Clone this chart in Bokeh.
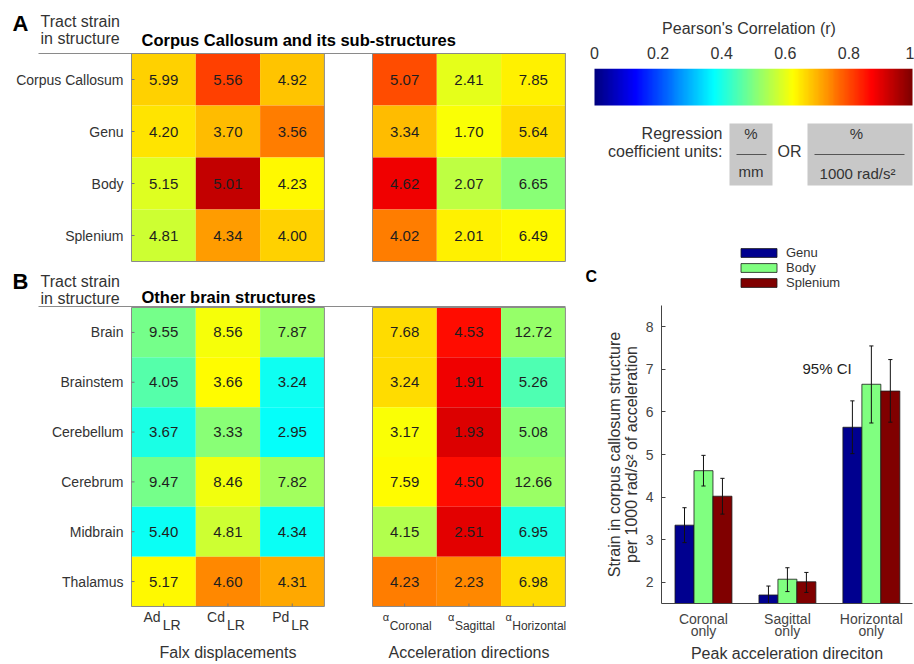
from bokeh.plotting import figure
from bokeh.models import Range1d, FixedTicker, Legend, LegendItem, ColumnDataSource, LinearColorMapper
from bokeh.layouts import row, column
from bokeh.embed import file_html
from bokeh.resources import INLINE
from bokeh.core.properties import value
from bokeh.transform import linear_cmap
import numpy as np

# ---------------- data ----------------
a_rows = ["Corpus Callosum", "Genu", "Body", "Splenium"]
b_rows = ["Brain", "Brainstem", "Cerebellum", "Cerebrum", "Midbrain", "Thalamus"]
falx_cols = ["Ad", "Cd", "Pd"]
falx_sub = "LR"
accel_cols = ["Coronal", "Sagittal", "Horizontal"]

# regression coefficients (cell text)
a_coef = [
    [5.99, 5.56, 4.92, 5.07, 2.41, 7.85],
    [4.20, 3.70, 3.56, 3.34, 1.70, 5.64],
    [5.15, 5.01, 4.23, 4.62, 2.07, 6.65],
    [4.81, 4.34, 4.00, 4.02, 2.01, 6.49],
]
# Pearson r (cell colour), estimated from colours
a_r = [
    [0.67, 0.81, 0.68, 0.80, 0.60, 0.64],
    [0.65, 0.69, 0.75, 0.69, 0.62, 0.66],
    [0.59, 0.93, 0.63, 0.89, 0.56, 0.51],
    [0.575, 0.72, 0.67, 0.75, 0.64, 0.63],
]
b_coef = [
    [9.55, 8.56, 7.87, 7.68, 4.53, 12.72],
    [4.05, 3.66, 3.24, 3.24, 1.91, 5.26],
    [3.67, 3.33, 2.95, 3.17, 1.93, 5.08],
    [9.47, 8.46, 7.82, 7.59, 4.50, 12.66],
    [5.40, 4.81, 4.34, 4.15, 2.51, 6.95],
    [5.17, 4.60, 4.31, 4.23, 2.23, 6.98],
]
b_r = [
    [0.49, 0.615, 0.525, 0.66, 0.86, 0.52],
    [0.46, 0.625, 0.39, 0.66, 0.89, 0.45],
    [0.40, 0.51, 0.38, 0.62, 0.91, 0.51],
    [0.49, 0.61, 0.535, 0.625, 0.86, 0.525],
    [0.385, 0.575, 0.385, 0.55, 0.90, 0.40],
    [0.63, 0.74, 0.71, 0.75, 0.74, 0.66],
]

cbar_ticks = [0, 0.2, 0.4, 0.6, 0.8, 1]

bar_groups = ["Coronal\nonly", "Sagittal\nonly", "Horizontal\nonly"]
bar_series = ["Genu", "Body", "Splenium"]
genu_mean = [3.34, 1.70, 5.64]
genu_lo = [2.93, 1.49, 5.02]
genu_hi = [3.75, 1.91, 6.26]
body_mean = [4.62, 2.07, 6.65]
body_lo = [4.26, 1.78, 5.74]
body_hi = [4.98, 2.34, 7.55]
splen_mean = [4.02, 2.01, 6.49]
splen_lo = [3.60, 1.76, 5.76]
splen_hi = [4.44, 2.23, 7.23]
bar_ticks = [2, 3, 4, 5, 6, 7, 8]

# ---------------- style ----------------
FONT = "Liberation Sans"
TXT = "#333333"
BAR_COLORS = ["#00008f", "#80ff80", "#800000"]
# approximate advance widths (em) of the letters used in the small labels
EM = {"C": .722, "o": .556, "r": .333, "n": .556, "a": .556, "l": .222, "S": .667,
      "g": .556, "i": .222, "t": .278, "H": .722, "z": .5}


def jet_hex(t):
    r = min(max(1.5 - abs(4 * t - 3), 0.0), 1.0)
    g = min(max(1.5 - abs(4 * t - 2), 0.0), 1.0)
    b = min(max(1.5 - abs(4 * t - 1), 0.0), 1.0)
    return "#%02x%02x%02x" % (round(r * 255), round(g * 255), round(b * 255))


JET = [jet_hex(i / 255) for i in range(256)]


def put(p, x, y, t, size, align="left", color=TXT, style="normal", baseline="middle", **kw):
    p.text(x=[x], y=[y], text=[t], text_font=value(FONT), text_font_size=f"{size}px",
           text_align=align, text_baseline=baseline, text_color=color,
           text_font_style=style, **kw)


# ---------------- heat maps (A + B) ----------------
HW, HH = 583, 664
ph = figure(width=HW, height=HH, x_range=Range1d(0, HW), y_range=Range1d(HH, 0),
            output_backend="svg", toolbar_location=None, min_border=0,
            x_axis_type=None, y_axis_type=None)
ph.outline_line_color = None
ph.grid.visible = False
ph.frame_align = False

LX0, RX0, CWID = 131, 372, 64.3
A_TOP, A_RH = 53, 52
B_TOP, B_RH = 307, 49.83


def col_center(j):
    return (LX0 if j < 3 else RX0) + (j % 3 + 0.5) * CWID


cx, cy, cw, chh, cr, ct = [], [], [], [], [], []
for rows, coef, rr, top, rh in [(a_rows, a_coef, a_r, A_TOP, A_RH), (b_rows, b_coef, b_r, B_TOP, B_RH)]:
    for i in range(len(rows)):
        for j in range(6):
            cx.append(col_center(j))
            cy.append(top + (i + 0.5) * rh)
            cw.append(CWID)
            chh.append(rh)
            cr.append(rr[i][j])
            ct.append("%.2f" % coef[i][j])
src = ColumnDataSource(dict(x=cx, y=cy, w=cw, h=chh, r=cr, t=ct))
ph.rect(x="x", y="y", width="w", height="h", source=src,
        fill_color=linear_cmap("r", JET, 0, 1), line_color=None)
ph.text(x="x", y="y", text="t", source=src, text_font=value(FONT), text_font_size="15px",
        text_align="center", text_baseline="middle", text_color="#1e1e1e")

# group borders
for top, rh, n in [(A_TOP, A_RH, len(a_rows)), (B_TOP, B_RH, len(b_rows))]:
    for x0 in (LX0, RX0):
        ph.rect(x=[x0 + 1.5 * CWID], y=[top + n * rh / 2], width=3 * CWID, height=n * rh,
                fill_color=None, line_color="#8a8a8a", line_width=1)

# row labels + small ticks
for rows, top, rh in [(a_rows, A_TOP, A_RH), (b_rows, B_TOP, B_RH)]:
    ys = [top + (i + 0.5) * rh for i in range(len(rows))]
    ph.text(x=[123] * len(rows), y=ys, text=rows, text_font=value(FONT), text_font_size="14px",
            text_align="right", text_baseline="middle", text_color=TXT)
    ph.segment(x0=[LX0] * len(rows), x1=[LX0 + 3] * len(rows), y0=ys, y1=ys,
               line_color="#777777", line_width=1)

B_BOT = B_TOP + len(b_rows) * B_RH
bx = [col_center(j) for j in range(6)]
ph.segment(x0=bx, x1=bx, y0=[B_BOT] * 6, y1=[B_BOT - 3] * 6, line_color="#777777", line_width=1)

# x labels under B
for j, name in enumerate(falx_cols):
    c = col_center(j)
    put(ph, c - 3, 616, name, 14, align="right")
    put(ph, c - 1, 624, falx_sub, 14, align="left")
for j, name in enumerate(accel_cols):
    c = col_center(j + 3)
    wc = c + 6
    wpx = sum(EM.get(ch, 0.55) for ch in name) * 12
    put(ph, wc, 625, name, 12, align="center")
    put(ph, wc - wpx / 2 - 0.5, 616, "\u03b1", 11, align="right")

put(ph, LX0 + 1.5 * CWID, 652, "Falx displacements", 16, align="center")
put(ph, RX0 + 1.5 * CWID, 652, "Acceleration directions", 16, align="center")

# headers
put(ph, 12, 23, "A", 22, color="black", style="bold")
put(ph, 40, 21, "Tract strain", 16)
put(ph, 40, 38, "in structure", 16)
put(ph, 141, 39, "Corpus Callosum and its sub-structures", 16.5, color="black", style="bold")
ph.segment(x0=[38], x1=[565], y0=[53], y1=[53], line_color="#8a8a8a", line_width=1.2)

put(ph, 12, 281, "B", 22, color="black", style="bold")
put(ph, 40, 281, "Tract strain", 16)
put(ph, 40, 298, "in structure", 16)
put(ph, 141, 296, "Other brain structures", 16.5, color="black", style="bold")
ph.segment(x0=[38], x1=[565], y0=[306], y1=[306], line_color="#8a8a8a", line_width=1.2)

# ---------------- colour bar + units + legend (top right) ----------------
CX0, CX1 = 594.0, 912.0   # colour bar ends on the page
PC_W, PC_H, PC_TOP = 331, 292, 68
pc = figure(width=PC_W, height=PC_H,
            x_range=Range1d((583 - CX0) / (CX1 - CX0), (914 - CX0) / (CX1 - CX0)),
            y_range=Range1d(0, PC_H - PC_TOP),
            output_backend="svg", toolbar_location=None,
            min_border_left=0, min_border_right=0, min_border_top=PC_TOP, min_border_bottom=0,
            x_axis_location="above", y_axis_type=None)
pc.outline_line_color = None
pc.grid.visible = False
pc.frame_align = False
ax = pc.xaxis[0]
ax.ticker = FixedTicker(ticks=cbar_ticks)
ax.major_label_overrides = {t: ("%g" % t) for t in cbar_ticks}
ax.axis_line_color = None
ax.major_tick_line_color = None
ax.minor_tick_line_color = None
ax.major_tick_out = 0
ax.major_tick_in = 0
ax.major_label_standoff = 10
ax.major_label_text_font = FONT
ax.major_label_text_font_size = "16px"
ax.major_label_text_color = TXT
ax.axis_label = "Pearson's Correlation (r)"
ax.axis_label_text_font = FONT
ax.axis_label_text_font_size = "16px"
ax.axis_label_text_font_style = "normal"
ax.axis_label_text_color = TXT
ax.axis_label_standoff = 7


def py(sy):
    return PC_H - sy


def px(sx):
    return (sx - CX0) / (CX1 - CX0)


grad = np.linspace(0, 1, 320).reshape(1, 320)
pc.image(image=[grad], x=0, y=py(105), dw=1, dh=py(68) - py(105),
         color_mapper=LinearColorMapper(palette=JET, low=0, high=1))

put(pc, px(722), py(133), "Regression", 16, align="right")
put(pc, px(722), py(151), "coefficient units:", 16, align="right")
pc.quad(left=[px(729)], right=[px(772)], bottom=[py(185)], top=[py(123)], fill_color="#c8c8c8",
        line_color=None)
put(pc, px(750.5), py(133), "%", 15, align="center")
pc.segment(x0=[px(736)], x1=[px(766)], y0=[py(154)], y1=[py(154)], line_color="#555555", line_width=1)
put(pc, px(750.5), py(171), "mm", 15, align="center")
put(pc, px(789), py(151), "OR", 16, align="center")
pc.quad(left=[px(807)], right=[px(912)], bottom=[py(185)], top=[py(123)], fill_color="#c8c8c8",
        line_color=None)
put(pc, px(856), py(133), "%", 15, align="center")
pc.segment(x0=[px(814)], x1=[px(904)], y0=[py(154)], y1=[py(154)], line_color="#555555", line_width=1)
put(pc, px(857), py(173), "1000 rad/s\u00b2", 15, align="center")

put(pc, px(585), py(276), "C", 16, color="black", style="bold")

# legend swatches (off-screen renderers styled like the bars)
leg_items = []
for name, colr in zip(bar_series, BAR_COLORS):
    rr_ = pc.vbar(x=[-10], top=[0], bottom=[0], width=0.1, fill_color=colr,
                  line_color="#1a1a1a", line_width=0.8)
    leg_items.append(LegendItem(label=name, renderers=[rr_]))
legend = Legend(items=leg_items, location=(736 - 583, 2), glyph_width=45, glyph_height=11,
                label_height=11, label_width=40, spacing=-1, padding=0, margin=0,
                border_line_color=None, background_fill_alpha=0,
                label_text_font=FONT, label_text_font_size="13px", label_text_color=TXT,
                label_standoff=5)
pc.add_layout(legend)

# ---------------- bar chart C ----------------
PB_H = 664 - PC_H
pb = figure(width=PC_W, height=PB_H, x_range=Range1d(0.5, 3.49), y_range=Range1d(1.5, 8.5),
            output_backend="svg", toolbar_location=None,
            min_border_left=78, min_border_right=2, min_border_top=305 - PC_H,
            min_border_bottom=57)
pb.outline_line_color = None
pb.grid.visible = False
pb.frame_align = False

gx = [1, 2, 3]
BW = 0.226
series = [(genu_mean, genu_lo, genu_hi, BAR_COLORS[0], -BW),
          (body_mean, body_lo, body_hi, BAR_COLORS[1], 0.0),
          (splen_mean, splen_lo, splen_hi, BAR_COLORS[2], BW)]
for m, lo, hi, colr, off in series:
    xs = [g + off for g in gx]
    pb.vbar(x=xs, top=m, bottom=0, width=BW, fill_color=colr, line_color="#1a1a1a", line_width=0.8)
CAP = 0.025
for m, lo, hi, colr, off in series:
    xs = [g + off for g in gx]
    pb.segment(x0=xs, x1=xs, y0=lo, y1=hi, line_color="#111111", line_width=1)
    pb.segment(x0=[x - CAP for x in xs], x1=[x + CAP for x in xs], y0=hi, y1=hi,
               line_color="#111111", line_width=1)
    pb.segment(x0=[x - CAP for x in xs], x1=[x + CAP for x in xs], y0=lo, y1=lo,
               line_color="#111111", line_width=1)

put(pb, 2.18, 7.02, "95% CI", 15, color="#222222")

ya = pb.yaxis[0]
ya.ticker = FixedTicker(ticks=bar_ticks)
ya.axis_line_color = "#444444"
ya.major_tick_line_color = "#444444"
ya.major_tick_in = 4
ya.major_tick_out = 0
ya.minor_tick_line_color = None
ya.major_label_standoff = 8
ya.major_label_text_font = FONT
ya.major_label_text_font_size = "14px"
ya.major_label_text_color = "#444444"
ya.axis_label = "Strain in corpus callosum structure\nper 1000 rad/s\u00b2 of acceleration"
ya.axis_label_text_font = FONT
ya.axis_label_text_font_size = "16px"
ya.axis_label_text_font_style = "normal"
ya.axis_label_text_color = TXT
ya.axis_label_text_line_height = 1.0
ya.axis_label_standoff = 3

xa = pb.xaxis[0]
xa.ticker = FixedTicker(ticks=gx)
xa.major_label_overrides = {g: lab for g, lab in zip(gx, bar_groups)}
xa.axis_line_color = "#444444"
xa.major_tick_line_color = None
xa.major_tick_in = 0
xa.major_tick_out = 0
xa.minor_tick_line_color = None
xa.major_label_standoff = 7
xa.major_label_text_font = FONT
xa.major_label_text_font_size = "14px"
xa.major_label_text_color = "#444444"
xa.major_label_text_line_height = 0.75
xa.axis_label = "Peak acceleration direciton"
xa.axis_label_text_font = FONT
xa.axis_label_text_font_size = "16px"
xa.axis_label_text_font_style = "normal"
xa.axis_label_text_color = TXT
xa.axis_label_standoff = 3

layout = row(ph, column(pc, pb))
open("out.html", "w").write(file_html(layout, INLINE))
